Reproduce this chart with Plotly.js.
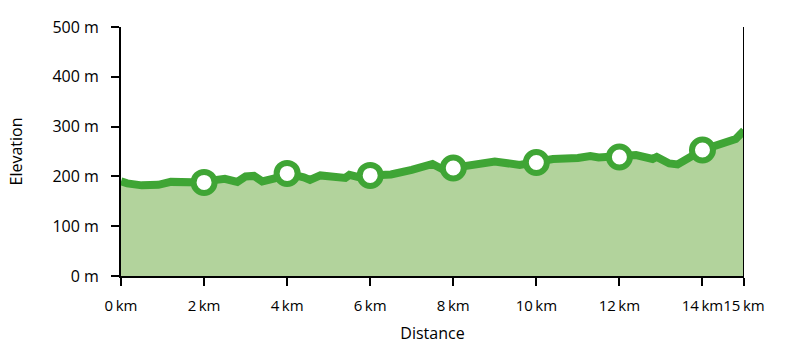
<!DOCTYPE html>
<html>
<head>
<meta charset="utf-8">
<script src="https://cdn.plot.ly/plotly-3.0.1.min.js"></script>
<style>html,body{margin:0;padding:0;background:#fff}#chart{width:798px;height:359px}</style>
</head>
<body>
<div id="chart"></div>
<script>
var distanceKm = [0, 0.15, 0.5, 0.9, 1.2, 1.5, 1.7, 2.0, 2.3, 2.5, 2.8, 3.0, 3.2, 3.4, 3.7, 4.0, 4.4, 4.55, 4.8, 5.3, 5.4, 5.5, 5.7, 6.0, 6.5, 7.0, 7.5, 7.75, 8.0, 8.5, 9.0, 9.6, 10.0, 10.4, 11.0, 11.3, 11.5, 12.0, 12.4, 12.8, 12.9, 13.2, 13.4, 14.0, 14.4, 14.8, 15.0];
var elevationM = [190, 186, 182, 183, 189, 188, 190, 188, 193, 195, 189, 200, 201, 190, 196, 206, 198, 193, 202, 201, 197, 203, 199, 202, 204, 213, 225, 214, 217, 224, 230, 223, 228, 235, 237, 241, 238, 239, 243, 235, 239, 226, 224, 253, 263, 275, 292];
var markerKm = [2, 4, 6, 8, 10, 12, 14];
var markerElev = [188, 206, 202, 217, 228, 239, 253];
var xTickVals = [0, 2, 4, 6, 8, 10, 12, 14, 15];
var xTickText = ['0\u2009km', '2\u2009km', '4\u2009km', '6\u2009km', '8\u2009km', '10\u2009km', '12\u2009km', '14\u2009km', '15\u2009km'];
var yTickVals = [0, 100, 200, 300, 400, 500];
var yTickText = ['0 m', '100 m', '200 m', '300 m', '400 m', '500 m'];

var green = '#3fa535';
var fillGreen = '#b2d39c';
var fam = 'Open Sans, Noto Sans, sans-serif';
var font = {family: fam, size: 16, color: '#000'};
var xTickFont = {family: fam, size: 15, color: '#000'};

var traces = [
  {x: distanceKm, y: elevationM, type: 'scatter', mode: 'lines', fill: 'tozeroy',
   fillcolor: fillGreen, line: {color: green, width: 8}, hoverinfo: 'skip'},
  {x: markerKm, y: markerElev, type: 'scatter', mode: 'markers',
   marker: {size: 21, color: '#fff', line: {color: green, width: 6}}, hoverinfo: 'skip'}
];

var layout = {
  width: 798, height: 359,
  margin: {l: 121, r: 54, t: 27, b: 83},
  paper_bgcolor: '#fff', plot_bgcolor: '#fff',
  showlegend: false,
  font: font,
  xaxis: {range: [0, 15], tickvals: xTickVals, ticktext: xTickText, tickmode: 'array', tickangle: 0, showgrid: false, zeroline: false,
          showline: true, linecolor: '#000', linewidth: 2, ticks: 'outside', ticklen: 8, tickwidth: 2, tickcolor: '#000',
          ticklabelstandoff: 7,
          title: {text: 'Distance', font: font, standoff: 14}, tickfont: xTickFont},
  yaxis: {range: [0, 500], tickvals: yTickVals, ticktext: yTickText, tickmode: 'array', showgrid: false, zeroline: false,
          showline: true, linecolor: '#000', linewidth: 2, ticks: 'outside', ticklen: 8, tickwidth: 2, tickcolor: '#000',
          ticklabelstandoff: 9,
          title: {text: 'Elevation', font: font, standoff: 26}, tickfont: font},
  shapes: [{type: 'line', xref: 'x', yref: 'paper', x0: 15, x1: 15, y0: 0, y1: 1, line: {color: '#000', width: 2}}]
};

Plotly.newPlot('chart', traces, layout, {staticPlot: true, displayModeBar: false});
</script>
</body>
</html>
